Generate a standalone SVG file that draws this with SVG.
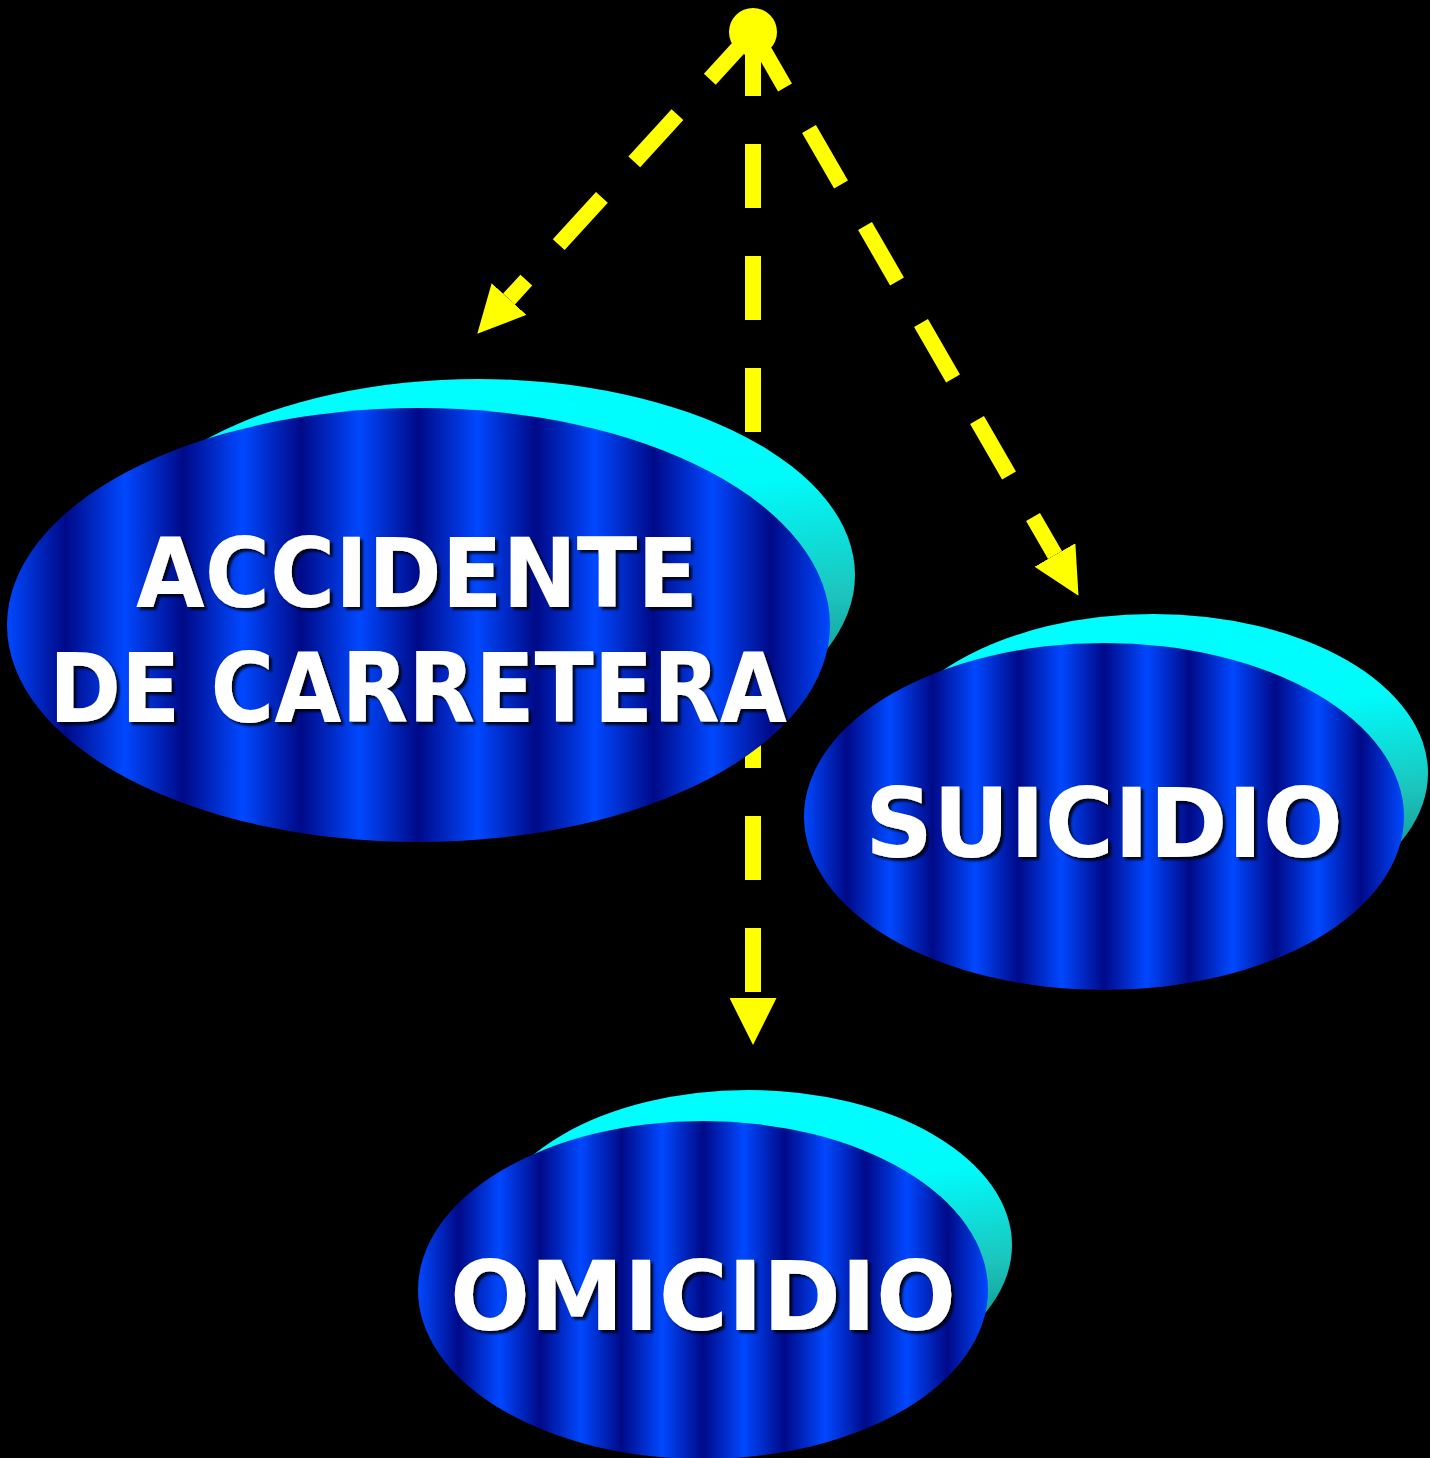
<svg xmlns="http://www.w3.org/2000/svg" width="1430" height="1458" viewBox="0 0 1430 1458">
  <defs>
    <style>
      .back { fill: url(#cyanGrad); }
      .front { fill: url(#stripes); }
      .label { font-family: "DejaVu Sans", "Liberation Sans", sans-serif; font-weight: bold; font-size: 96px; fill: #ffffff; text-anchor: middle; filter: url(#shadow); }
      .conn { fill: none; stroke: #ffff00; stroke-width: 16; stroke-dasharray: 64 48; stroke-linecap: butt; marker-end: url(#head); }
    </style>
    <linearGradient id="stripes" x1="0" y1="0" x2="0.142857" y2="0" spreadMethod="repeat">
      <stop offset="0" stop-color="#0048ff"/>
      <stop offset="0.5" stop-color="#000a88"/>
      <stop offset="1" stop-color="#0048ff"/>
    </linearGradient>
    <linearGradient id="cyanGrad" x1="0" y1="0" x2="0.25" y2="1">
      <stop offset="0" stop-color="#00ffff"/>
      <stop offset="0.45" stop-color="#00fbfb"/>
      <stop offset="0.75" stop-color="#1cc4bc"/>
      <stop offset="1" stop-color="#108a88"/>
    </linearGradient>
    <filter id="shadow" x="-10%" y="-20%" width="120%" height="140%">
      <feDropShadow dx="3" dy="3" stdDeviation="1" flood-color="#000000" flood-opacity="0.85"/>
    </filter>
    <marker id="head" markerUnits="userSpaceOnUse" markerWidth="47" markerHeight="47" viewBox="0 0 47 47" refX="0" refY="23.5" orient="auto">
      <path d="M0,0 L47,23.5 L0,47 z" fill="#ffff00"/>
    </marker>
  </defs>
  <rect x="0" y="0" width="1430" height="1458" fill="#000000"/>

  <g id="connectors">
    <path class="conn" d="M753,32 L509,299"/>
    <path class="conn" d="M753,32 L753,998"/>
    <path class="conn" d="M753,32 L1055,555"/>
    <circle cx="753" cy="32" r="24" fill="#ffff00"/>
  </g>

  <g id="node-accidente">
    <ellipse class="back" cx="478" cy="575" rx="377" ry="196"/>
    <ellipse class="front" cx="418.5" cy="625" rx="411.5" ry="217"/>
    <text class="label" x="417" y="607" textLength="562" lengthAdjust="spacingAndGlyphs">ACCIDENTE</text>
    <text class="label" x="418" y="722" textLength="738" lengthAdjust="spacingAndGlyphs">DE CARRETERA</text>
  </g>

  <g id="node-suicidio">
    <ellipse class="back" cx="1153" cy="773" rx="275" ry="159"/>
    <ellipse class="front" cx="1104" cy="816.5" rx="300" ry="173.5"/>
    <text class="label" x="1104" y="857" textLength="478" lengthAdjust="spacingAndGlyphs">SUICIDIO</text>
  </g>

  <g id="node-omicidio">
    <ellipse class="back" cx="748" cy="1245" rx="264" ry="155"/>
    <ellipse class="front" cx="703" cy="1290" rx="285" ry="169"/>
    <text class="label" x="703" y="1330" textLength="506" lengthAdjust="spacingAndGlyphs">OMICIDIO</text>
  </g>
</svg>
